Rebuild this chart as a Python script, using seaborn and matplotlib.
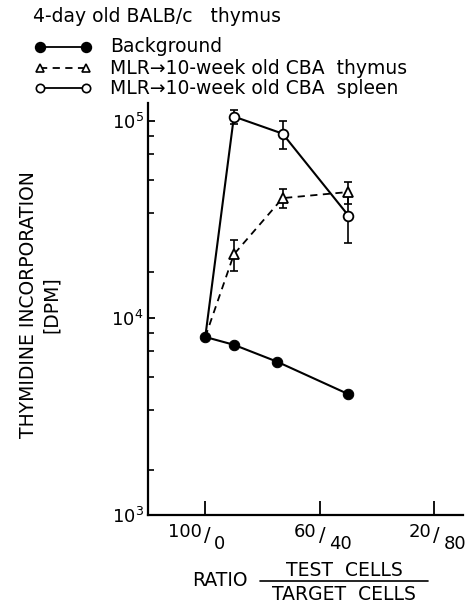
import numpy as np
import pandas as pd
import matplotlib
matplotlib.use("Agg")
import matplotlib.pyplot as plt
import seaborn as sns
from matplotlib.lines import Line2D
from matplotlib.ticker import FixedLocator, NullFormatter

# ---------------- data ----------------
bg_x = [100, 90, 75, 50]
bg_y = [8.0e3, 7.3e3, 6.0e3, 4.1e3]

thy_x = [100, 90, 73, 50]
thy_y = [8.0e3, 2.1e4, 4.05e4, 4.35e4]
thy_err = [0, 3.7e3, 4.5e3, 5.5e3]

spl_x = [100, 90, 73, 50]
spl_y = [8.0e3, 1.05e5, 8.6e4, 3.3e4]
spl_err = [0, 9.0e3, 1.4e4, 9.0e3]

x_ticks = [100, 60, 20]
x_tick_labels = ["100/0", "60/40", "20/80"]
y_ticks = [1e3, 1e4, 1e5]
y_tick_labels = [r"$10^{3}$", r"$10^{4}$", r"$10^{5}$"]
y_minor = [m * d for d in (1e3, 1e4) for m in (1.7, 3.4, 5.0, 6.8, 8.4)]

title_text = "4-day old BALB/c   thymus"
legend_labels = ["Background",
                 "MLR\u219210-week old CBA  thymus",
                 "MLR\u219210-week old CBA  spleen"]

# ---------------- style ----------------
sns.set_theme(style="white")
plt.rcParams["font.family"] = ["DejaVu Sans"]
plt.rcParams["mathtext.fontset"] = "dejavusans"
for k in ("text.color", "axes.labelcolor", "xtick.color", "ytick.color",
          "axes.edgecolor"):
    plt.rcParams[k] = "black"

W, H = 477, 609
fig = plt.figure(figsize=(W / 100, H / 100), dpi=100)
L, R, T, B = 148, 463, 103, 515
ax = fig.add_axes([L / W, 1 - B / H, (R - L) / W, (B - T) / H])

LW = 1.5
# spleen (solid, open circles)
sns.lineplot(x=spl_x, y=spl_y, ax=ax, color="black", lw=LW, sort=False,
             estimator=None, marker="o", markersize=7, markerfacecolor="white",
             markeredgecolor="black", markeredgewidth=1.3, markevery=[1, 2, 3],
             zorder=3)
# thymus (dashed, open triangles)
sns.lineplot(x=thy_x, y=thy_y, ax=ax, color="black", lw=1.3, sort=False,
             estimator=None, linestyle=(0, (4, 3)), marker="^", markersize=7,
             markerfacecolor="white", markeredgecolor="black",
             markeredgewidth=1.3, markevery=[1, 2, 3], zorder=3)
# background (solid, filled circles)
sns.lineplot(x=bg_x, y=bg_y, ax=ax, color="black", lw=LW, sort=False,
             estimator=None, marker="o", markersize=7.5, markerfacecolor="black",
             markeredgecolor="black", zorder=5)

ax.errorbar(spl_x[1:], spl_y[1:], yerr=spl_err[1:], fmt="none", ecolor="black",
            elinewidth=1.2, capsize=3, capthick=1.2, zorder=2)
ax.errorbar(thy_x[1:], thy_y[1:], yerr=thy_err[1:], fmt="none", ecolor="black",
            elinewidth=1.2, capsize=3, capthick=1.2, zorder=2)

ax.set_yscale("log")
ax.set_xlim(120, 10)
ax.set_ylim(1e3, 1.23e5)
ax.set_xlabel("")
ax.set_ylabel("")

sns.despine(ax=ax)
for s in ("left", "bottom"):
    ax.spines[s].set_color("black")
    ax.spines[s].set_linewidth(1.6)

ax.set_yticks(y_ticks)
ax.set_yticklabels(y_tick_labels, fontsize=13)
ax.yaxis.set_minor_locator(FixedLocator(y_minor))
ax.yaxis.set_minor_formatter(NullFormatter())
ax.tick_params(axis="y", which="major", direction="in", length=5, width=1.3,
               left=True, pad=3, colors="black")
ax.tick_params(axis="y", which="minor", direction="in", length=4.5, width=1.2,
               left=True)

ax.set_xticks(x_ticks)
ax.set_xticklabels([""] * len(x_ticks))
ax.tick_params(axis="x", which="major", direction="in", length=10, width=1.3,
               bottom=True, colors="black")
ax.tick_params(axis="x", which="minor", bottom=False)

# fraction-style x tick labels
for xv, lab in zip(x_ticks, x_tick_labels):
    num, den = lab.split("/")
    ax.annotate(num, xy=(xv, 0), xycoords=("data", "axes fraction"),
                xytext=(-2.5, -6), textcoords="offset points",
                ha="right", va="top", fontsize=13)
    ax.annotate("/", xy=(xv, 0), xycoords=("data", "axes fraction"),
                xytext=(1.5, -8), textcoords="offset points",
                ha="center", va="top", fontsize=14)
    ax.annotate(den, xy=(xv, 0), xycoords=("data", "axes fraction"),
                xytext=(6.5, -14.5), textcoords="offset points",
                ha="left", va="top", fontsize=13)

FS = 13.5
# x-axis label: RATIO  TEST CELLS / TARGET CELLS
fig.text(192 / W, 1 - 581 / H, "RATIO", ha="left", va="center", fontsize=FS)
fig.text(344 / W, 1 - 570 / H, "TEST  CELLS", ha="center", va="center", fontsize=FS)
fig.text(344 / W, 1 - 594 / H, "TARGET  CELLS", ha="center", va="center", fontsize=FS)
fig.add_artist(Line2D([260 / W, 428 / W], [1 - 581 / H, 1 - 581 / H],
                      color="black", lw=1.2))

# y-axis label
fig.text(40 / W, 1 - 305 / H, "THYMIDINE INCORPORATION\n[DPM]", rotation=90,
         ha="center", va="center", multialignment="center", fontsize=FS,
         linespacing=1.3)

# title and legend
fig.text(33 / W, 1 - 16 / H, title_text, ha="left", va="center", fontsize=FS)
rows = [47, 68, 88]
styles = [
    dict(marker="o", mfc="black", ls="-", ms=7),
    dict(marker="^", mfc="white", ls=(0, (4, 3)), ms=6),
    dict(marker="o", mfc="white", ls="-", ms=6),
]
for ypx, lab, st in zip(rows, legend_labels, styles):
    yf = 1 - ypx / H
    fig.add_artist(Line2D([40 / W, 86 / W], [yf, yf], color="black", lw=1.3,
                          linestyle=st["ls"], marker=st["marker"],
                          markersize=st["ms"], markerfacecolor=st["mfc"],
                          markeredgecolor="black", markeredgewidth=1.2))
    fig.text(110 / W, yf, lab, ha="left", va="center", fontsize=FS)

fig.savefig("out.png", dpi=100, facecolor="white")
